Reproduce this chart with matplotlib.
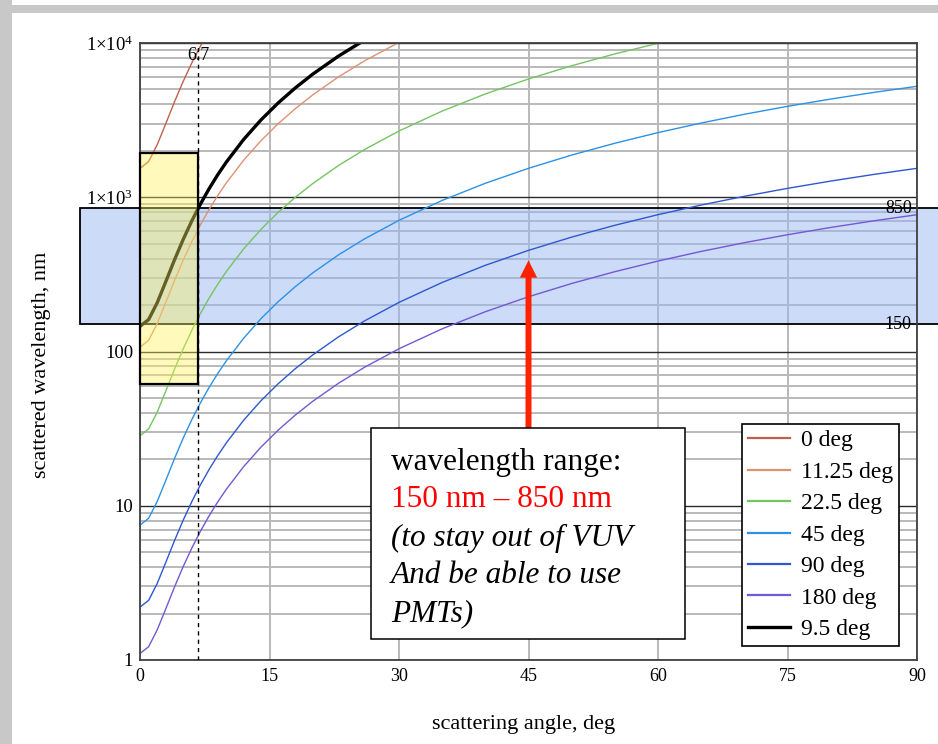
import matplotlib
matplotlib.use('Agg')
import matplotlib.pyplot as plt
import matplotlib.transforms as mtransforms
from matplotlib.patches import Rectangle, FancyArrowPatch
from matplotlib.ticker import LogLocator, FixedLocator, NullFormatter

plt.rcParams['font.family'] = ['Liberation Serif', 'DejaVu Serif']
plt.rcParams['mathtext.fontset'] = 'custom'
plt.rcParams['mathtext.rm'] = 'Liberation Serif'
plt.rcParams['mathtext.it'] = 'Liberation Serif:italic'

# ---------------- data ----------------
angles = [0, 1, 2, 3, 4, 5, 6, 7, 8, 9, 10, 12, 14, 16, 18, 20, 23, 26, 30,
          35, 40, 45, 50, 55, 60, 65, 70, 75, 80, 85, 90]

wl_0 = [1540, 1704, 2195, 3014, 4160, 5632, 7431, 9556, 12005]
wl_11_25 = [106.8, 118.2, 152.2, 209.0, 288.5, 390.6, 515.4, 662.8, 832.7, 1025,
            1240, 1737, 2322, 2996, 3757, 4605, 6036, 7655, 10100]
wl_22_5 = [28.44, 31.46, 40.53, 55.65, 76.81, 104.0, 137.2, 176.5, 221.7, 272.9,
           330.1, 462.4, 618.3, 797.7, 1000, 1226, 1607, 2038, 2689, 3620, 4674,
           5845, 7122, 8496, 9957, 11494]
wl_45 = [7.49, 8.29, 10.68, 14.66, 20.24, 27.40, 36.16, 46.49, 58.41, 71.91, 86.98,
         121.8, 162.9, 210.2, 263.6, 323.0, 423.4, 537.0, 708.5, 953.8, 1232, 1540,
         1877, 2239, 2624, 3029, 3450, 3886, 4331, 4784, 5240]
wl_90 = [2.202, 2.436, 3.139, 4.310, 5.948, 8.054, 10.63, 13.66, 17.17, 21.14, 25.56,
         35.81, 47.88, 61.77, 77.47, 94.94, 124.5, 157.8, 208.2, 280.3, 362.0, 452.6,
         551.5, 658.0, 771.1, 890.1, 1014, 1142, 1273, 1406, 1540]
wl_180 = [1.102, 1.219, 1.571, 2.156, 2.976, 4.030, 5.317, 6.837, 8.590, 10.58, 12.79,
          17.92, 23.96, 30.91, 38.76, 47.50, 62.27, 78.98, 104.2, 140.3, 181.1, 226.5,
          276.0, 329.2, 385.8, 445.4, 507.4, 571.4, 636.9, 703.5, 770.6]
wl_9_5 = [145.6, 161.1, 207.5, 285.0, 393.3, 532.5, 702.6, 903.5, 1135, 1398, 1690,
          2368, 3166, 4085, 5122, 6278, 8229, 10436]

series_labels = ['0 deg', '11.25 deg', '22.5 deg', '45 deg', '90 deg', '180 deg', '9.5 deg']
series_values = [wl_0, wl_11_25, wl_22_5, wl_45, wl_90, wl_180, wl_9_5]
series_colors = ['#c0604c', '#dc9272', '#74c462', '#2c92e6', '#2f58d0', '#7458d4', '#000000']
series_widths = [1.0, 1.0, 1.0, 1.0, 1.0, 1.0, 2.4]

x_ticks = [0, 15, 30, 45, 60, 75, 90]
y_ticks = [1, 10, 100, 1000, 10000]
y_tick_labels = ['1', '10', '100', '1×10$^{3}$', '1×10$^{4}$']

band_low, band_high = 150, 850
cut_angle = 6.7
yellow_low, yellow_high = 62, 1950
arrow_x, arrow_y0, arrow_y1 = 45, 31, 390

# ---------------- figure ----------------
W, H = 938, 744
fig = plt.figure(figsize=(W / 100, H / 100), dpi=100)
fig.patch.set_facecolor('white')

def fx(px):
    return px / W

def fy(py):
    return 1 - py / H

ax = fig.add_axes([fx(140), fy(660), fx(917) - fx(140), fy(43) - fy(660)])
ax.set_yscale('log')
ax.set_xlim(0, 90)
ax.set_ylim(1, 1e4)

ax.xaxis.set_major_locator(FixedLocator(x_ticks))
ax.set_xticklabels([str(v) for v in x_ticks])
ax.yaxis.set_major_locator(FixedLocator(y_ticks))
ax.set_yticklabels(y_tick_labels)
ax.yaxis.set_minor_locator(LogLocator(base=10, subs=range(2, 10), numticks=20))
ax.yaxis.set_minor_formatter(NullFormatter())
ax.tick_params(which='both', length=0)
ax.tick_params(axis='x', labelsize=13, pad=6)
ax.tick_params(axis='y', labelsize=13.5, pad=5)

ax.set_axisbelow(True)
ax.grid(which='major', axis='x', color='#b9b9b9', lw=1.4)
ax.grid(which='minor', axis='y', color='#b9b9b9', lw=1.4)
ax.grid(which='major', axis='y', color='#2a2a2a', lw=1.0)
for sp in ax.spines.values():
    sp.set_color('#404040')
    sp.set_linewidth(1.3)

# blue band (extends outside the axes)
trans = mtransforms.blended_transform_factory(fig.transFigure, ax.transData)
blue = Rectangle((fx(80), band_low), 1.0 - fx(80) + 0.01, band_high - band_low,
                 transform=trans, facecolor=(0.60, 0.72, 0.95, 0.5),
                 edgecolor='black', lw=1.3, clip_on=False, zorder=1)
ax.add_patch(blue)

# curves
for lab, vals, col, lw in zip(series_labels, series_values, series_colors, series_widths):
    ax.plot(angles[:len(vals)], vals, color=col, lw=lw, label=lab, zorder=2)

# yellow box
yellow = Rectangle((0, yellow_low), cut_angle, yellow_high - yellow_low,
                   facecolor=(1.0, 0.95, 0.35, 0.4), edgecolor='black', lw=1.6,
                   clip_on=False, zorder=3)
ax.add_patch(yellow)

ax.axvline(cut_angle, color='black', lw=1.0, ls=(0, (3, 3)), zorder=4)
ax.text(cut_angle + 0.1, 8240, '6.7', ha='center', va='center', fontsize=13, zorder=4)
ax.text(89.4, band_high, str(band_high), ha='right', va='center', fontsize=13, zorder=4)
ax.text(89.4, band_low, str(band_low), ha='right', va='center', fontsize=13, zorder=4)

# red arrow
arr = FancyArrowPatch((arrow_x, arrow_y0), (arrow_x, arrow_y1),
                      arrowstyle='simple,head_length=12.5,head_width=12.5,tail_width=4.3',
                      mutation_scale=1, color='#ff2200', lw=0, shrinkA=0, shrinkB=0,
                      zorder=5)
ax.add_patch(arr)

# legend
leg = ax.legend(loc='upper left',
                bbox_to_anchor=((742 - 140) / 777, (660 - 424) / 617),
                borderaxespad=0, frameon=True, fancybox=False, edgecolor='black',
                framealpha=1, fontsize=17, handlelength=1.8, handletextpad=0.45,
                labelspacing=0.42, borderpad=0.25)
leg.get_frame().set_linewidth(1.2)
leg.set_zorder(6)
for h in leg.get_lines():
    h.set_linewidth(max(h.get_linewidth(), 1.6))

# annotation box
fig.add_artist(Rectangle((fx(371), fy(639)), fx(685) - fx(371), fy(428) - fy(639),
                         transform=fig.transFigure, facecolor='white',
                         edgecolor='black', lw=1.1, zorder=7))
tx = fx(391)
fig.text(tx, fy(470), 'wavelength range:', fontsize=22.5, va='baseline', zorder=8)
fig.text(tx, fy(507), '150 nm – 850 nm', fontsize=22.5, va='baseline', color='#ff0000', zorder=8)
fig.text(tx, fy(546), '(to stay out of VUV', fontsize=22.5, va='baseline', style='italic', zorder=8)
fig.text(tx, fy(583), 'And be able to use', fontsize=22.5, va='baseline', style='italic', zorder=8)
fig.text(tx, fy(621), 'PMTs)', fontsize=22.5, va='baseline', style='italic', zorder=8)

# axis labels
fig.text(fx(524), fy(725), 'scattering angle, deg', ha='center', va='center', fontsize=16)
fig.text(fx(42), fy(365), 'scattered wavelength, nm', ha='center', va='center',
         rotation=90, fontsize=16)

# gray frame (left and top)
fig.add_artist(Rectangle((0, 0), fx(12), 1, transform=fig.transFigure,
                         facecolor='#c8c8c8', edgecolor='none', zorder=-1))
fig.add_artist(Rectangle((0, fy(13)), 1, fy(5) - fy(13), transform=fig.transFigure,
                         facecolor='#c8c8c8', edgecolor='none', zorder=-1))

fig.savefig('out.png', dpi=100)
